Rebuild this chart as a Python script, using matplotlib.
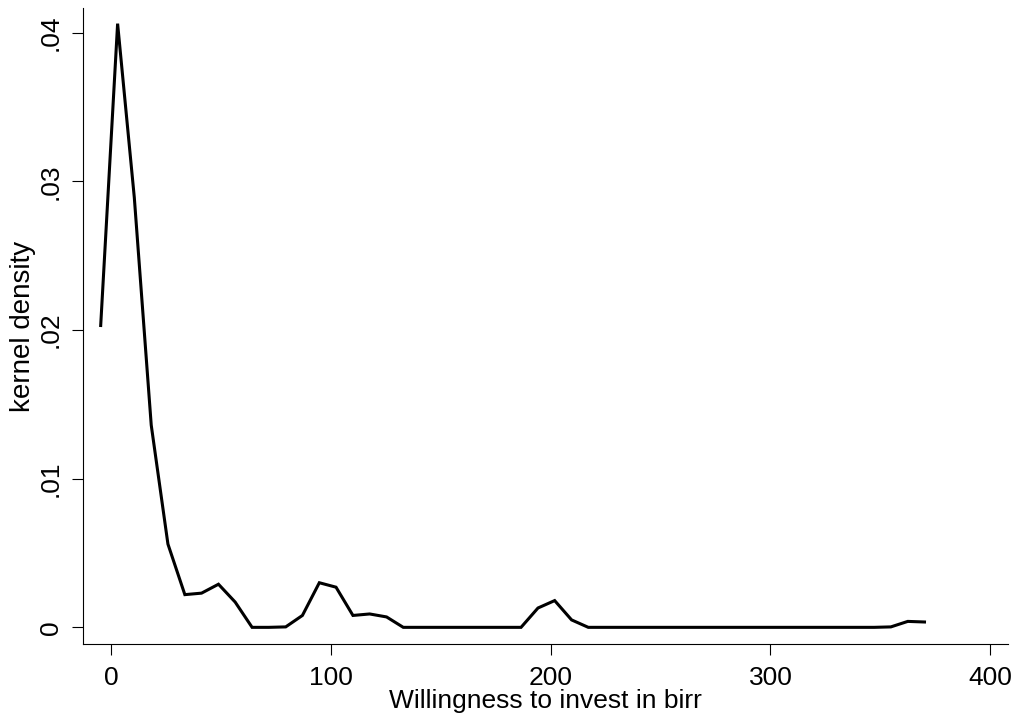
import numpy as np
import matplotlib
matplotlib.use("Agg")
import matplotlib.pyplot as plt
from matplotlib.ticker import FixedLocator

plt.rcParams['font.family'] = ['Liberation Sans', 'DejaVu Sans']

# kernel density estimate (50 evaluation points)
invest = [-4.8, 2.9, 10.5, 18.2, 25.8, 33.5, 41.1, 48.8, 56.4, 64.1,
          71.7, 79.4, 87.0, 94.7, 102.3, 110.0, 117.6, 125.3, 132.9, 140.6,
          148.2, 155.9, 163.5, 171.2, 178.8, 186.5, 194.2, 201.8, 209.5, 217.1,
          224.8, 232.4, 240.1, 247.7, 255.4, 263.0, 270.7, 278.3, 286.0, 293.6,
          301.3, 308.9, 316.6, 324.2, 331.9, 339.5, 347.2, 354.8, 362.5, 370.1]
density = [0.0203, 0.0406, 0.0289, 0.0136, 0.0056, 0.0022, 0.0023, 0.0029, 0.0017, 0.0000,
           0.0000, 0.00003, 0.0008, 0.0030, 0.0027, 0.0008, 0.0009, 0.0007, 0.0000, 0.0000,
           0.0000, 0.0000, 0.0000, 0.0000, 0.0000, 0.0000, 0.0013, 0.0018, 0.0005, 0.0000,
           0.0000, 0.0000, 0.0000, 0.0000, 0.0000, 0.0000, 0.0000, 0.0000, 0.0000, 0.0000,
           0.0000, 0.0000, 0.0000, 0.0000, 0.0000, 0.0000, 0.0000, 0.00003, 0.0004, 0.00036]

xticks = [0, 100, 200, 300, 400]
yticks = [0, 0.01, 0.02, 0.03, 0.04]
ytick_labels = ["0", ".01", ".02", ".03", ".04"]

fig = plt.figure(figsize=(10.2, 7.24), dpi=100)
ax = fig.add_axes([0.0817, 0.1105, 0.9063, 0.878])

ax.plot(invest, density, color="black", lw=2.2, solid_joinstyle="miter")

ax.set_xlim(-12.7, 408)
ax.set_ylim(-0.00112, 0.04163)

ax.xaxis.set_major_locator(FixedLocator(xticks))
ax.yaxis.set_major_locator(FixedLocator(yticks))
ax.set_yticklabels(ytick_labels, rotation=90, va="center")

ax.tick_params(axis="both", length=8, width=0.8, labelsize=19, color="black")
ax.tick_params(axis="y", pad=7)
ax.tick_params(axis="x", pad=8)

for side in ("top", "right"):
    ax.spines[side].set_visible(False)
for side in ("left", "bottom"):
    ax.spines[side].set_linewidth(0.8)

ax.set_xlabel("Willingness to invest in birr", fontsize=19, labelpad=-1)
ax.set_ylabel("kernel density", fontsize=20, labelpad=2)

fig.savefig("out.png", dpi=100)
